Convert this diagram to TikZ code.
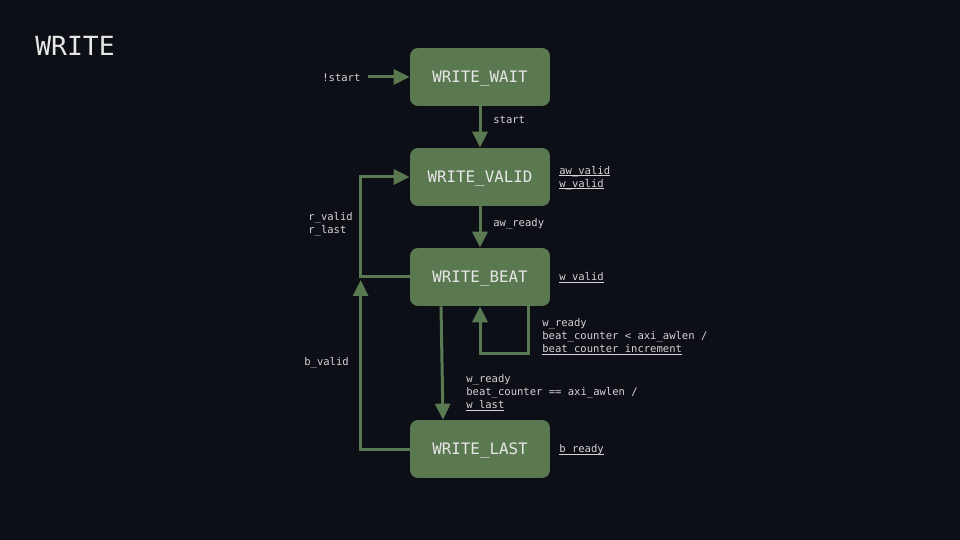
\documentclass[tikz,border=0pt]{standalone}
\usepackage{fontspec}
\setmonofont{DejaVu Sans Mono}
\usetikzlibrary{arrows.meta}
\definecolor{bg}{HTML}{0C0F16}
\definecolor{stategreen}{HTML}{5B7951}
\definecolor{txt}{HTML}{E6E6E6}
\newcommand\outul[1]{\setbox0\hbox{#1}\rlap{\rule[-0.9pt]{\wd0}{0.45pt}}\box0}
\tikzset{
  state/.style={fill=stategreen, rounded corners=0.16cm, minimum width=2.8cm, minimum height=1.16cm,
    text=txt, font=\ttfamily\fontsize{9}{11}\selectfont, text height=6.6pt, text depth=0pt},
  trans/.style={draw=stategreen, line width=0.06cm, -{Triangle[length=0.32cm,width=0.3cm]}},
  lbl/.style={text=txt!92!black, font=\ttfamily\fontsize{6}{7.4}\selectfont, align=left, inner sep=0pt, anchor=west},
}

\begin{document}
\begin{tikzpicture}[x=0.02cm,y=-0.02cm]
  \fill[bg] (0,0) rectangle (960,540);
  \node[text=txt, font=\ttfamily\fontsize{15}{18}\selectfont, inner sep=0pt, anchor=west] (title) at (35,46) {WRITE};

  % states
  \node[state] (wait) at (480,77) {WRITE\_WAIT};
  \node[state] (valid) at (480,177) {WRITE\_VALID};
  \node[state] (beat) at (480,277) {WRITE\_BEAT};
  \node[state] (last) at (480,449) {WRITE\_LAST};

  % outputs
  \node[lbl] (outvalid) at (559,178) {\outul{aw\_valid}\\\outul{w\_valid}};
  \node[lbl] (outbeat) at (559,278) {\outul{w\_valid}};
  \node[lbl] (outlast) at (559,450) {\outul{b\_ready}};

  % transitions
  \node[lbl] (lblinit) at (322,78) {!start};
  \coordinate (init) at (368,77);
  \draw[trans] (init) -- (wait.west);

  \draw[trans] (wait) -- (valid);
  \node[lbl] (lblstart) at (493,120) {start};
  \draw[trans] (valid) -- (beat);
  \node[lbl] (lblaw) at (493,224) {aw\_ready};

  \draw[trans] (beat.west) -- ++(-49,0) |- (valid.west);
  \node[lbl] (lblr) at (308,224) {r\_valid\\r\_last};

  \draw[trans] ([xshift=0.98cm]beat.south) -- ++(0,47) -| (beat.south);
  \node[lbl] (lblloop) at (542,337) {w\_ready\\beat\_counter < axi\_awlen /\\\outul{beat\_counter\_increment}};

  \draw[trans] ([xshift=-0.78cm]beat.south) -- ([xshift=-0.74cm]last.north);
  \node[lbl] (lbllast) at (466,393) {w\_ready\\beat\_counter == axi\_awlen /\\\outul{w\_last}};

  \draw[trans] (last.west) -- ++(-49,0) -- ++(0,-169);
  \node[lbl] (lblb) at (304,363) {b\_valid};
\end{tikzpicture}
\end{document}
